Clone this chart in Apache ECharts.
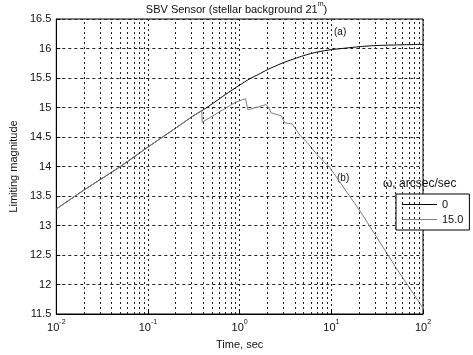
<!DOCTYPE html>
<html>
<head>
<meta charset="utf-8">
<script src="https://cdn.jsdelivr.net/npm/echarts@6/dist/echarts.min.js"></script>
<style>html,body{margin:0;padding:0;background:#fff;}#c{width:473px;height:355px;}</style>
</head>
<body>
<div id="c"></div>
<script>
// Curve (a): omega = 0
var aX = [0.01, 0.02, 0.05, 0.1, 0.2, 0.3, 0.4, 0.5, 0.7, 1, 1.3, 1.6, 2, 3, 5, 7, 10, 15, 20, 30, 50, 100];
var aY = [13.28, 13.6, 14.0, 14.33, 14.65, 14.84, 14.96, 15.06, 15.22, 15.38, 15.49, 15.56, 15.64, 15.76, 15.88, 15.94, 15.98, 16.01, 16.03, 16.05, 16.06, 16.07];
// Curve (b): omega = 15.0
var bX = [0.01, 0.02, 0.05, 0.1, 0.2, 0.3, 0.386, 0.39, 0.9, 1.16, 1.23, 1.95, 2.12, 2.2, 2.84, 3.1, 3.75, 4.6, 5.5, 7, 9.55, 21.5, 50, 100];
var bY = [13.28, 13.6, 14.0, 14.33, 14.65, 14.84, 14.95, 14.75, 15.09, 15.15, 14.96, 15.05, 14.97, 14.91, 14.86, 14.74, 14.72, 14.52, 14.4, 14.2, 13.99, 13.2, 12.3, 11.6];
var seriesNames = ['0', '15.0'];
var decades = [0.01, 0.1, 1, 10];

var minorX = [];
decades.forEach(function (d) { for (var k = 2; k <= 9; k++) minorX.push(+(k * d).toPrecision(3)); });

function pairs(xs, ys) { return xs.map(function (x, i) { return [x, ys[i]]; }); }

var font = 'Liberation Sans';
var chart = echarts.init(document.getElementById('c'));
chart.setOption({
  animation: false,
  backgroundColor: '#fff',
  textStyle: { fontFamily: font },
  title: {
    text: '{t|SBV Sensor (stellar background 21}{s|m}{t|)}',
    left: 'center', top: 1, padding: 0,
    textStyle: {
      fontWeight: 'normal',
      rich: {
        t: { fontSize: 11, fontFamily: font, fontWeight: 'normal', color: '#111', lineHeight: 14, verticalAlign: 'bottom' },
        s: { fontSize: 7, fontFamily: font, fontWeight: 'normal', color: '#111', lineHeight: 14, verticalAlign: 'top' }
      }
    }
  },
  grid: { left: 45, right: 50, top: 19, bottom: 39, show: true, borderColor: '#000', borderWidth: 1, containLabel: false },
  xAxis: {
    type: 'log', logBase: 10, min: 0.01, max: 100,
    name: 'Time, sec', nameLocation: 'middle', nameGap: 25,
    nameTextStyle: { fontSize: 11, color: '#111', fontFamily: font },
    axisLine: { lineStyle: { color: '#000' } },
    axisTick: { inside: true, length: 4, lineStyle: { color: '#000' } },
    axisLabel: {
      margin: 5, color: '#111',
      formatter: function (v) { return '{b|10}{s|' + Math.round(Math.log10(v)) + '}'; },
      rich: {
        b: { fontSize: 11, fontFamily: font, color: '#111', lineHeight: 14, verticalAlign: 'bottom' },
        s: { fontSize: 7, fontFamily: font, color: '#111', lineHeight: 14, verticalAlign: 'top' }
      }
    },
    splitLine: { show: true, lineStyle: { color: '#222', type: [2, 3], width: 1 } }
  },
  yAxis: {
    type: 'value', min: 11.5, max: 16.5, interval: 0.5,
    name: 'Limiting magnitude', nameLocation: 'middle', nameGap: 35,
    nameTextStyle: { fontSize: 11, color: '#111', fontFamily: font },
    axisLine: { show: true, lineStyle: { color: '#000' } },
    axisTick: { inside: true, length: 4, lineStyle: { color: '#000' } },
    axisLabel: { fontSize: 11, color: '#111', margin: 5, formatter: function (v) { return String(v); } },
    splitLine: { show: true, lineStyle: { color: '#222', type: [3, 3], width: 1 } }
  },
  legend: {
    data: [
      { name: seriesNames[0], icon: 'rect', itemStyle: { color: '#000' } },
      { name: seriesNames[1], icon: 'rect', itemStyle: { color: '#808080' } }
    ],
    orient: 'vertical', left: 396, top: 194,
    padding: [5, 6, 5, 6], itemGap: 4, itemWidth: 35, itemHeight: 1.2,
    borderColor: '#000', borderWidth: 1, backgroundColor: '#fff',
    textStyle: { fontSize: 11, color: '#111', fontFamily: font }
  },
  graphic: [
    { type: 'text', left: 383, top: 178, style: { text: 'ω, arcsec/sec', fontSize: 12, fontFamily: font, fill: '#111' } },
    { type: 'text', left: 334, top: 27, style: { text: '(a)', fontSize: 10, fontFamily: font, fill: '#111' } },
    { type: 'text', left: 337, top: 173, style: { text: '(b)', fontSize: 10, fontFamily: font, fill: '#111' } }
  ],
  series: [
    {
      name: seriesNames[0], type: 'line', data: pairs(aX, aY), showSymbol: false, symbol: 'none',
      smooth: 0.2, lineStyle: { color: '#000', width: 1 }, itemStyle: { color: '#000' }, z: 3,
      markLine: {
        silent: true, symbol: ['none', 'none'], label: { show: false },
        lineStyle: { color: '#222', type: [2, 3], width: 1 },
        data: minorX.map(function (v) { return { xAxis: v }; })
      }
    },
    {
      name: seriesNames[1], type: 'line', data: pairs(bX, bY), showSymbol: false, symbol: 'none',
      lineStyle: { color: '#808080', width: 1 }, itemStyle: { color: '#808080' }, z: 4
    }
  ]
});
</script>
</body>
</html>
